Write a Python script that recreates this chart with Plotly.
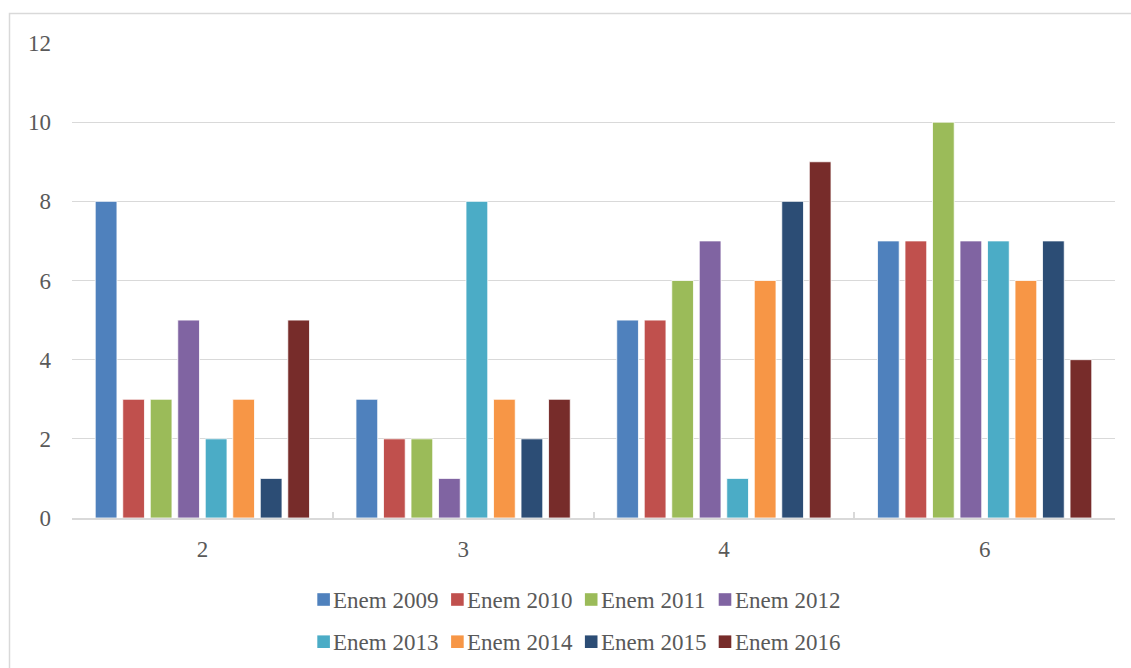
import plotly.graph_objects as go

categories = ["2", "3", "4", "6"]
series_names = ["Enem 2009", "Enem 2010", "Enem 2011", "Enem 2012",
                "Enem 2013", "Enem 2014", "Enem 2015", "Enem 2016"]
values_2009 = [8, 3, 5, 7]
values_2010 = [3, 2, 5, 7]
values_2011 = [3, 2, 6, 10]
values_2012 = [5, 1, 7, 7]
values_2013 = [2, 8, 1, 7]
values_2014 = [3, 3, 6, 6]
values_2015 = [1, 2, 8, 7]
values_2016 = [5, 3, 9, 4]
series_values = [values_2009, values_2010, values_2011, values_2012,
                 values_2013, values_2014, values_2015, values_2016]
colors = ["#4F81BD", "#C0504D", "#9BBB59", "#8064A2",
          "#4BACC6", "#F79646", "#2C4D75", "#772C2A"]
y_ticks = [0, 2, 4, 6, 8, 10, 12]

W, H = 1131, 668
L, R, T, B = 72, 16, 43, 150
PW, PH = W - L - R, H - T - B
FONT = "'Liberation Serif', 'Times New Roman', Times, 'DejaVu Serif', serif"
TXT = "#595959"
GRID = "#D9D9D9"

fig = go.Figure()
for name, vals, col in zip(series_names, series_values, colors):
    fig.add_trace(go.Bar(
        x=categories, y=vals, name=name,
        marker=dict(color=col, line=dict(color="white", width=0.8)),
        showlegend=False,
    ))

def px_x(p):
    return (p - L) / PW

def px_y(p):
    return (H - B - p) / PH

shapes = []
annotations = []
# chart border
shapes.append(dict(type="rect", xref="paper", yref="paper",
                   x0=px_x(9.5), x1=px_x(W + 20), y0=px_y(13.5), y1=px_y(H + 20),
                   line=dict(color=GRID, width=1.5), fillcolor="rgba(0,0,0,0)",
                   layer="below"))
# manual legend
leg_x0, pitch = 317.3, 133.8
row_y = [599.5, 641.7]
sw = 12.6
for i, (name, col) in enumerate(zip(series_names, colors)):
    r, c = divmod(i, 4)
    sx = leg_x0 + c * pitch
    cy = row_y[r]
    shapes.append(dict(type="rect", xref="paper", yref="paper",
                       x0=px_x(sx), x1=px_x(sx + sw),
                       y0=px_y(cy + sw / 2), y1=px_y(cy - sw / 2),
                       fillcolor=col, line=dict(width=0)))
    annotations.append(dict(xref="paper", yref="paper", x=px_x(sx + 14), y=px_y(cy + 1),
                            text=name, showarrow=False, xanchor="left", yanchor="middle",
                            font=dict(family=FONT, size=23, color=TXT)))

fig.update_layout(
    width=W, height=H,
    margin=dict(l=L, r=R, t=T, b=B, pad=0),
    paper_bgcolor="white", plot_bgcolor="white",
    barmode="group", bargap=0.156, bargroupgap=0.21,
    font=dict(family=FONT, size=23, color=TXT),
    shapes=shapes, annotations=annotations,
    xaxis=dict(type="category", tickson="boundaries", ticks="inside", ticklen=6,
               tickcolor=GRID, tickwidth=1.5, showline=True, linecolor=GRID, linewidth=2,
               showgrid=False, ticklabelstandoff=9,
               tickfont=dict(family=FONT, size=23, color=TXT)),
    yaxis=dict(range=[0, 12], tickvals=y_ticks, showgrid=True, gridcolor=GRID, gridwidth=1.3,
               zeroline=False, showline=False, ticks="", ticklabelstandoff=20,
               tickfont=dict(family=FONT, size=23, color=TXT)),
)

fig.write_html("out.html")
